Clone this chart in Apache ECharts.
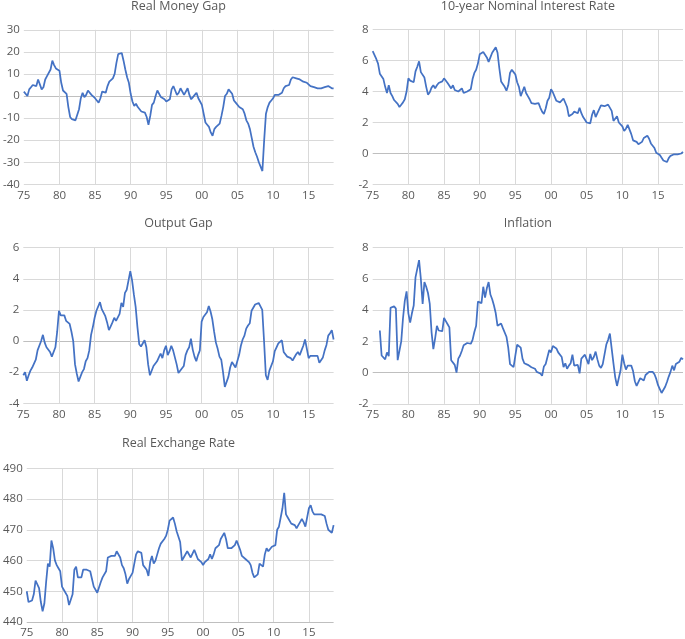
<!DOCTYPE html>
<html><head><meta charset="utf-8">
<script src="https://cdn.jsdelivr.net/npm/echarts@6/dist/echarts.min.js"></script>
<style>html,body{margin:0;padding:0;background:#fff}#c{width:685px;height:639px}</style>
</head><body><div id="c"></div>
<script>
// Quarterly categories 1975Q1 .. 2018Q3
const quarters = [];
for (let y = 1975; y <= 2018; y++) {
  for (let q = 1; q <= 4; q++) {
    if (y === 2018 && q === 4) break;
    quarters.push(y + 'Q' + q);
  }
}
const panelTitles = ['Real Money Gap', '10-year Nominal Interest Rate', 'Output Gap', 'Inflation', 'Real Exchange Rate'];

const realMoneyGap = [
  2, 1.5, 0, 3,   4, 5, 5, 4.5,   7.5, 7, 3, 4,   7.5, 9, 9.5, 12,   16, 14, 12.5, 12,
  11.5, 6, 2.5, 2.5,   1, -5, -9.5, -10.5,   -11, -11, -10.5, -6,   -1, 1.5, -0.5, 0.5,   2.5, 2, 0.5, 1,
  -1, -2, -3, -1,   2, 1.5, 1.5, 4.5,   6.5, 7, 8, 10,   15, 19, 18.5, 19.5,   16, 12, 8.5, 6,
  1, -2.5, -4.5, -3.5,   -5, -6, -7, -7,   -7.5, -9.5, -13, -9,   -4, -3, 0, 2.5,   2, -0.5, 0, -1.5,
  -2.5, -2.5, -1.5, 3,   4.5, 2.5, 0.5, 1.5,   3.5, 3, 0.5, 1,   3.5, 0.5, -1.5, -0.5,   0.5, 1.5, -1, -2.5,
  -4, -8, -12, -13,   -14, -16.5, -18, -15,   -14, -13.5, -12.5, -9,   -5, 0, 1, 3,   3.5, 1, -2, -3,
  -3.5, -5, -5, -6,   -8, -11, -12.5, -15,   -19, -23, -25.5, -27.5,   -30, -32, -34, -20,   -8, -5, -3, -2,
  -1, 0.5, 1, 0.5,   0, 1.5, 3.5, 4.5,   4.5, 5, 7.5, 8.5,   8.5, 8, 7.5, 7.5,   7, 6.5, 6, 6,
  5.5, 4.5, 4, 4,   3.8, 3.5, 4, 3.5,   3.7, 4, 4.5, 4.5,   4, 3.5, 3.5
];

const interestRate = [
  6.6, 6.5, 6.1, 5.8,   5.15, 5.1, 4.8, 4.3,   3.9, 4.4, 3.9, 3.7,   3.45, 3.35, 3.2, 3.0,   3.15, 3.3, 3.5, 4.0,
  4.85, 4.7, 4.75, 4.6,   5.3, 5.6, 5.95, 5.25,   5.15, 4.9, 4.3, 3.8,   3.95, 4.25, 4.4, 4.2,   4.4, 4.55, 4.65, 4.65,
  4.85, 4.75, 4.55, 4.45,   4.2, 4.4, 4.1, 4.05,   4.0, 4.05, 4.2, 3.9,   3.9, 4.0, 4.1, 4.15,   4.8, 5.2, 5.4, 5.8,
  6.4, 6.3, 6.55, 6.6,   6.2, 5.9, 6.2, 6.5,   6.4, 6.85, 6.5, 5.5,   4.65, 4.6, 4.3, 4.05,   4.4, 5.2, 5.4, 5.25,
  5.1, 4.6, 4.3, 3.7,   4.0, 4.3, 3.9, 3.7,   3.5, 3.25, 3.3, 3.2,   3.1, 3.25, 2.95, 2.7,   2.55, 2.9, 3.4, 3.6,
  4.15, 3.95, 3.9, 3.4,   3.3, 3.3, 3.35, 3.55,   3.6, 3.0, 2.4, 2.5,   2.55, 2.7, 2.75, 2.6,   2.95, 2.6, 2.35, 2.3,
  2.0, 1.95, 1.95, 2.5,   2.8, 2.35, 2.6, 2.7,   3.1, 3.0, 3.05, 3.0,   3.15, 3.2, 2.75, 2.1,   2.2, 2.4, 2.0, 1.95,
  1.75, 1.45, 1.6, 1.85,   1.75, 1.25, 0.85, 0.8,   0.75, 0.6, 0.55, 0.75,   1.0, 1.05, 1.15, 0.95,   0.65, 0.55, 0.35, 0.05,
  0.0, -0.1, -0.1, -0.45,   -0.55, -0.55, -0.3, -0.15,   -0.05, -0.05, 0.0, -0.05,   0.05, 0.0, 0.1
];

const outputGap = [
  -2.2, -2.0, -2.55, -2.2,   -1.9, -1.7, -1.6, -1.2,   -0.6, -0.6, 0.0, 0.4,   -0.1, -0.4, -0.45, -0.7,   -1.0, -0.9, -0.4, 0.6,
  1.95, 1.65, 1.7, 1.65,   1.3, 1.3, 1.1, 0.6,   0.0, -1.5, -2.1, -2.6,   -2.65, -2.0, -1.8, -1.3,   -1.1, -0.6, 0.4, 0.9,
  1.5, 1.95, 2.05, 2.5,   2.05, 2.1, 1.6, 1.2,   0.7, 0.95, 1.2, 1.5,   1.3, 1.35, 1.75, 2.45,   2.2, 3.1, 3.3, 3.9,
  4.5, 3.9, 3.0, 2.2,   0.9, -0.2, -0.35, -0.4,   0.05, -0.4, -1.5, -2.2,   -2.2, -1.6, -1.5, -1.3,   -1.05, -0.8, -1.1, -0.6,
  -0.3, -0.9, -0.65, -0.3,   -0.6, -0.65, -1.5, -2.05,   -2.0, -1.75, -1.6, -0.9,   -0.6, -0.4, 0.15, -0.55,   -1.0, -1.3, -0.9, -0.6,
  1.25, 1.55, 1.6, 1.85,   2.25, 1.9, 1.4, 0.6,   -0.1, -0.5, -1.0, -1.2,   -2.0, -2.95, -3.05, -2.3,   -1.7, -1.35, -1.4, -1.7,
  -1.6, -0.9, -0.3, 0.1,   0.35, 0.8, 1.0, 1.15,   1.95, 2.0, 2.35, 2.45,   2.45, 2.5, 2.0, 0.0,   -2.2, -2.5, -1.9, -2.0,
  -1.3, -0.65, -0.4, -0.15,   -0.05, 0.05, -0.7, -0.6,   -1.0, -1.1, -1.1, -1.25,   -1.2, -0.85, -0.7, -0.9,   -0.6, -0.3, 0.1, -0.5,
  -1.1, -0.95, -1.0, -0.95,   -1.0, -0.95, -1.4, -1.35,   -1.05, -0.6, -0.25, 0.35,   0.5, 0.7, 0.1
];

const inflation = [
  null, null, null, null,   2.7, 1.1, 1.0, 0.85,   1.3, 1.05, 4.15, 4.1,   4.25, 4.1, 0.8, 0.85,   2.0, 3.5, 4.6, 5.2,
  3.8, 3.2, 3.8, 4.3,   6.1, 6.05, 7.2, 6.0,   4.4, 5.8, 5.5, 5.1,   4.4, 2.6, 1.5, 2.2,   3.0, 2.7, 2.7, 2.65,
  3.5, 3.3, 3.1, 2.9,   0.8, 0.75, 0.5, 0.0,   0.9, 1.1, 1.4, 1.75,   1.7, 1.9, 1.9, 1.85,   2.1, 2.6, 3.0, 4.55,
  4.5, 4.45, 5.5, 4.8,   5.4, 5.8, 5.0, 4.7,   4.3, 3.8, 3.0, 3.0,   3.15, 2.85, 2.95, 2.3,   1.6, 0.55, 0.5, 0.35,
  1.1, 1.8, 1.7, 1.6,   0.9, 0.6, 0.6, 0.5,   0.45, 0.35, 0.3, 0.25,   0.05, 0.05, -0.05, -0.2,   0.4, 0.55, 1.0, 1.45,
  1.3, 1.7, 1.65, 1.55,   1.3, 1.3, 1.0, 0.35,   0.6, 0.25, 0.45, 0.6,   1.15, 0.45, 0.45, 0.5,   -0.05, 0.9, 0.8, 1.15,
  1.2, 0.55, 1.2, 0.8,   1.0, 1.35, 0.85, 0.45,   0.3, 0.55, 0.65, 1.8,   2.1, 2.5, 2.45, 0.6,   -0.3, -0.85, -0.85, 0.15,
  1.15, 0.6, 0.2, 0.45,   0.45, 0.45, 0.1, -0.55,   -0.85, -0.9, -0.35, -0.35,   -0.5, -0.15, -0.05, 0.05,   0.0, 0.05, -0.1, -0.4,
  -0.8, -1.05, -1.3, -1.2,   -0.9, -0.6, -0.25, 0.05,   0.45, 0.15, 0.55, 0.65,   0.7, 0.95, 0.85
];

const exchangeRate = [
  450, 446.5, 446, 447,   449, 453.5, 453, 451,   446.5, 443.5, 446, 453,   459, 458, 466.5, 464,   460, 458.5, 457.5, 456.5,
  451.5, 450.5, 450, 448.5,   445.5, 445.5, 449, 457,   458, 454.5, 454, 454.5,   457, 456.5, 457, 457.5,   456.5, 454, 451.5, 452,
  449.5, 449.5, 453, 454.5,   455, 456.5, 461, 460.5,   461.5, 462, 461.5, 463,   463.5, 461, 458.5, 457.5,   455.5, 452.5, 454, 455,
  456, 459, 462, 463,   463, 462.5, 458.5, 458.5,   457, 455, 459.5, 461.5,   459, 460, 462, 464,   465.5, 465, 467, 468,
  470, 473, 472.5, 474,   472, 469.5, 469.5, 466,   460, 461, 461.5, 463,   462.5, 461, 461, 463.5,   462, 460.5, 460, 459.5,
  458.5, 459.5, 460, 460.5,   462, 460.5, 462, 464,   463.5, 465, 467, 467.5,   469, 467, 464, 464,   464, 464.5, 465, 466.5,
  465, 463.5, 461.5, 461,   460.5, 460.5, 459.5, 458.5,   456, 454.5, 454.5, 455.5,   459, 459.5, 458, 462,   464, 463, 463.5, 464.5,
  465, 465, 470, 471,   474, 477, 482, 475,   474, 473.5, 472, 471.5,   471.5, 470.5, 471.5, 472.5,   473.5, 472.5, 471, 470.5,
  477, 478, 476, 475,   475, 475, 475, 475,   475, 474.5, 472, 470,   470.5, 469, 471.5
];

const yMins = [-40, -2, -4, -2, 440];
const yMaxs = [30, 8, 6, 8, 490];
const yIntervals = [10, 2, 2, 2, 10];
const seriesData = [realMoneyGap, interestRate, outputGap, inflation, exchangeRate];

const FONT = 'Open Sans';
const TXT = '#595959';
const GRID_C = '#D9D9D9';
const AXIS_C = '#BFBFBF';
const PLOT_W = 310.3;
const lefts = [23.3, 372.7, 23.3, 372.7, 23.3];
const tops = [29.8, 29.5, 247.7, 247.7, 468.3];
const heights = [154.5, 155, 155.6, 156.2, 155];
const titleTops = [0, 0, 216.5, 216.5, 436.5];

const grids = [], xAxes = [], yAxes = [], series = [], titles = [];
for (let g = 0; g < 5; g++) {
  grids.push({ left: lefts[g], top: tops[g], width: PLOT_W, height: heights[g], containLabel: false });
  titles.push({
    text: panelTitles[g], left: lefts[g] + PLOT_W / 2, top: titleTops[g], textAlign: 'center', padding: 0,
    textStyle: { fontFamily: FONT, fontSize: 12.5, fontWeight: 'normal', color: TXT }
  });
  xAxes.push({
    type: 'category', gridIndex: g, data: quarters, boundaryGap: false,
    axisLine: { show: false }, axisTick: { show: false },
    axisLabel: {
      interval: (i) => i % 20 === 0, formatter: (v) => v.slice(2, 4),
      color: TXT, fontFamily: FONT, fontSize: 11.5, margin: 5
    },
    splitLine: { show: true, interval: (i) => i % 20 === 0 && i > 0, lineStyle: { color: GRID_C, width: 1 } }
  });
  const nLines = Math.round((yMaxs[g] - yMins[g]) / yIntervals[g]) + 1;
  const colors = [];
  for (let k = 0; k < nLines; k++) {
    const v = yMins[g] + k * yIntervals[g];
    colors.push((v === 0 || (g === 4 && k === 0)) ? AXIS_C : GRID_C);
  }
  yAxes.push({
    type: 'value', gridIndex: g, min: yMins[g], max: yMaxs[g], interval: yIntervals[g],
    axisLine: { show: false }, axisTick: { show: false },
    axisLabel: { color: TXT, fontFamily: FONT, fontSize: 11.5, margin: 4 },
    splitLine: { show: true, lineStyle: { color: colors, width: 1 } }
  });
  series.push({
    type: 'line', xAxisIndex: g, yAxisIndex: g, data: seriesData[g],
    showSymbol: false, symbol: 'none', connectNulls: false,
    lineStyle: { color: '#4472C4', width: 1.75 }, z: 3
  });
}

const chart = echarts.init(document.getElementById('c'), null, { renderer: 'canvas' });
chart.setOption({
  animation: false, backgroundColor: '#fff',
  title: titles, grid: grids, xAxis: xAxes, yAxis: yAxes, series: series
});
</script></body></html>
